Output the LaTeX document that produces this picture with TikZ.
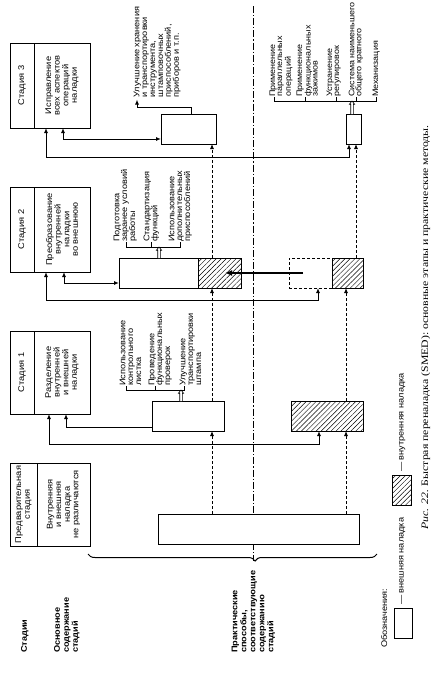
\documentclass[tikz,border=0pt]{standalone}
\usepackage{fontspec}
\setmainfont{Liberation Sans}[FakeStretch=1.12]
\newfontfamily\capfont{Liberation Serif}[FakeStretch=1.2]
\usetikzlibrary{arrows.meta,patterns.meta,decorations.pathreplacing}
\newcommand\hollowarrow[3]{\draw[line width=0.6pt,fill=white] (#1-1.3,#2) -- (#1-1.3,#3+3.2) -- (#1-2.6,#3+3.2) -- (#1,#3) -- (#1+2.6,#3+3.2) -- (#1+1.3,#3+3.2) -- (#1+1.3,#2);}
\begin{document}
\begin{tikzpicture}[x=1pt,y=-1pt,
  >={Latex[length=5pt,width=4pt]},
  bx/.style={draw,line width=0.9pt,fill=white,inner sep=0pt,outer sep=0pt,anchor=north west},
  hb/.style={bx,preaction={fill=white},pattern={Lines[angle=45,distance=3.5pt,line width=0.45pt]}},
  db/.style={bx,dash pattern=on 3pt off 2pt,line width=0.8pt},
  stt/.style={rotate=90,align=center,inner sep=0pt,font=\fontsize{8.3}{8.6}\selectfont},
  item/.style={rotate=90,align=left,anchor=north west,inner sep=0pt,font=\fontsize{8.2}{7.9}\selectfont},
  itemt/.style={item,font=\fontsize{8}{7}\selectfont},
  lbl/.style={item,font=\bfseries\fontsize{8.2}{9}\selectfont},
  con/.style={line width=1pt},
  dsh/.style={line width=0.8pt,dash pattern=on 3pt off 2pt},
  brk/.style={line width=0.7pt},
]
\useasboundingbox (0,0) rectangle (446,678);
% axis
\coordinate (axT) at (253,6);
\coordinate (axB) at (253,561);
\draw[line width=0.9pt,dash pattern=on 7pt off 2pt on 1.2pt off 2pt] (axT) -- (axB);
% stage boxes
\node[bx,minimum width=80pt,minimum height=85pt] (s3) at (10,43) {};
\node[bx,minimum width=80pt,minimum height=85pt] (s2) at (10,187) {};
\node[bx,minimum width=80pt,minimum height=83pt] (s1) at (10,331) {};
\node[bx,minimum width=80pt,minimum height=83pt] (s0) at (10,463) {};
\foreach \s in {s3,s2,s1}{\draw[line width=0.9pt] ([xshift=24pt]\s.north west) -- ([xshift=24pt]\s.south west);}
\draw[line width=0.9pt] ([xshift=27pt]s0.north west) -- ([xshift=27pt]s0.south west);
\node[stt] at (22,85.5) {Стадия 3};
\node[stt] at (62,85.5) {Исправление\\всех аспектов\\операций\\наладки};
\node[stt] at (22,229.5) {Стадия 2};
\node[stt] at (62,229.5) {Преобразование\\внутренней\\наладки\\во внешнюю};
\node[stt] at (22,372.5) {Стадия 1};
\node[stt] at (62,372.5) {Разделение\\внутренней\\и внешней\\наладки};
\node[stt] at (23.5,504.5) {Предварительная\\стадия};
\node[stt] at (63.5,504.5) {Внутренняя\\и внешняя\\наладка\\не различаются};
% row boxes
\node[bx,minimum width=55pt,minimum height=30pt] (w3) at (161,114) {};
\node[bx,minimum width=15pt,minimum height=30pt] (m3) at (346,114) {};
\node[bx,minimum width=79pt,minimum height=30pt] (w2) at (119,258) {};
\node[hb,minimum width=43pt,minimum height=30pt] (h2) at (198,258) {};
\node[db,minimum width=43pt,minimum height=30pt] (d2) at (289,258) {};
\node[hb,minimum width=31pt,minimum height=30pt] (r2) at (332,258) {};
\node[bx,minimum width=72pt,minimum height=30pt] (w1) at (152,401) {};
\node[hb,minimum width=72pt,minimum height=30pt] (h1) at (291,401) {};
\node[bx,minimum width=201pt,minimum height=30pt] (w0) at (158,514) {};
% dashed flows
\draw[dsh,->] ([xshift=54pt]w0.north west) -- ([xshift=60pt]w1.south west);
\draw[dsh,->] ([xshift=60pt]w1.north west) -- ([xshift=14pt]h2.south west);
\draw[dsh,->] ([xshift=14pt]h2.north west) -- ([xshift=51pt]w3.south west);
\draw[dsh,->] ([xshift=188pt]w0.north west) -- ([xshift=55pt]h1.south west);
\draw[dsh,->] ([xshift=55pt]h1.north west) -- ([xshift=14pt]r2.south west);
\draw[dsh,->] ([xshift=24pt]r2.north west) -- ([xshift=10pt]m3.south west);
% solid connectors
\draw[con,<->] ([xshift=36pt]s3.south west) -- ++(0,29) -| ([xshift=3pt]m3.south west);
\draw[con,<->] ([xshift=53pt]s3.south west) |- ([yshift=-10pt]w3.west);
\draw[con,<->] ([xshift=36pt]s2.south west) -- ++(0,28) -| ([xshift=29pt]d2.south west);
\draw[con,<->] ([xshift=54pt]s2.south west) |- ([yshift=-10pt]w2.west);
\draw[con,<->] ([xshift=39pt]s1.south west) -- ++(0,30) -| ([xshift=28pt]h1.south west);
\draw[con,<-] ([xshift=56pt]s1.south west) |- ([yshift=-11pt]w1.west);
\draw[line width=1.8pt,-{Latex[length=7pt,width=6pt]}] ([xshift=14pt]d2.west) -- ([xshift=27pt]h2.west);
\coordinate (ulT) at (137,99.5);
\draw[con,->] ([xshift=30pt]w3.north west) -- ++(0,-7) -| (ulT);
% hollow arrows and brackets
\hollowarrow{181}{401}{390}
\hollowarrow{159}{258}{247}
\hollowarrow{352}{114}{101}
\draw[brk] (126,386) -- (126,390) -- (184,390) -- (184,386);
\draw[brk] (155,390) -- (155,386);
\draw[brk] (126,242) -- (126,247) -- (180,247) -- (180,242);
\draw[brk] (151,247) -- (151,242);
\draw[brk] (274,97) -- (274,101) -- (376,101) -- (376,97);
\foreach \t in {305,336,356}{\draw[brk] (\t,101) -- (\t,97);}
% practical items
\node[item] at (133.5,97.5) {Улучшение хранения\\и транспортировки\\инструмента,\\штамповочных\\приспособлений,\\приборов и т.п.};
\node[itemt] at (269.5,97) {Применение\\параллельных\\операций};
\node[itemt] at (296.5,97) {Применение\\функциональных\\зажимов};
\node[itemt] at (326.5,97) {Устранение\\регулировок};
\node[itemt] at (348.5,97) {Система наименьшего\\общего кратного};
\node[itemt] at (372.5,97) {Механизация};
\node[item] at (113.5,242) {Подготовка\\заранее условий\\работы};
\node[item] at (143.5,242) {Стандартизация\\функций};
\node[item] at (168.5,242) {Использование\\дополнительных\\приспособлений};
\node[item] at (119.5,386) {Использование\\контрольного\\листка};
\node[item] at (148.5,386) {Проведение\\функциональных\\проверок};
\node[item] at (179.5,386) {Улучшение\\транспортировки\\штампа};
% brace
\draw[decorate,decoration={brace,amplitude=7pt,aspect=0.422},line width=1pt] (377,554) -- (88,554);
% left labels
\node[lbl] at (21,653) {Стадии};
\node[lbl] at (54,653) {Основное\\содержание\\стадий};
\node[lbl] at (231.5,653) {Практические\\способы,\\соответствующие\\содержанию\\стадий};
% legend
\node[item] at (381,648) {Обозначения:};
\node[bx,minimum width=18pt,minimum height=30pt] (lg1) at (394,608) {};
\node[item] at (399,605) {— внешняя наладка};
\node[hb,minimum width=19pt,minimum height=30pt] (lg2) at (392,475) {};
\node[item] at (399,472) {— внутренняя наладка};
% caption
\node[rotate=90,anchor=north west,inner sep=0pt,font=\capfont\fontsize{9.8}{10}\selectfont] at (421,530) {\textit{Рис. 22.} Быстрая переналадка (SMED): основные этапы и практические методы.};
\end{tikzpicture}
\end{document}
